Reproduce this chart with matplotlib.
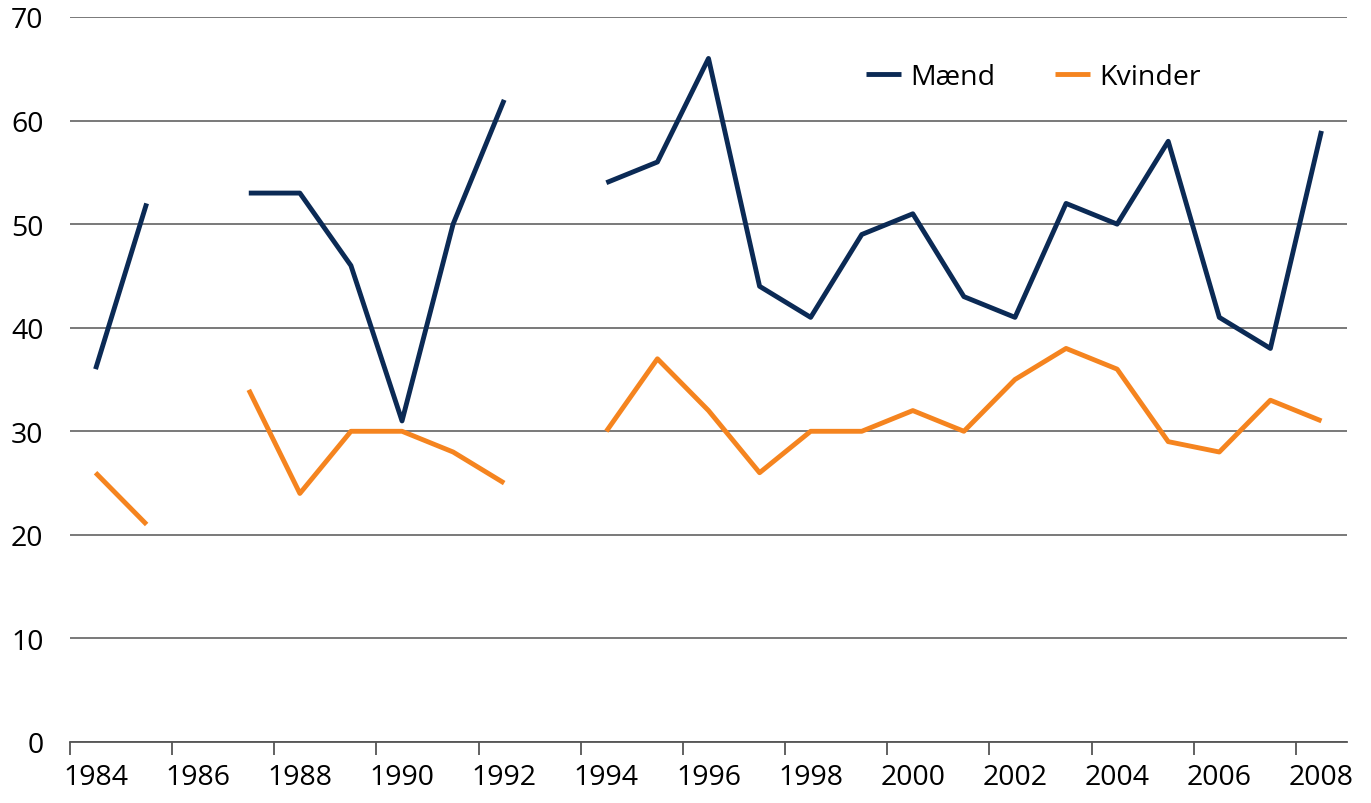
import numpy as np
import matplotlib
matplotlib.use("Agg")
import matplotlib.pyplot as plt

# ---- data ----
years = list(range(1984, 2009))
maend = [36, 52, np.nan, 53, 53, 46, 31, 50, 62, np.nan, 54, 56, 66, 44, 41,
         49, 51, 43, 41, 52, 50, 58, 41, 38, 59]
kvinder = [26, 21, np.nan, 34, 24, 30, 30, 28, 25, np.nan, 30, 37, 32, 26, 30,
           30, 32, 30, 35, 38, 36, 29, 28, 33, 31]
yticks = [0, 10, 20, 30, 40, 50, 60, 70]

plt.rcParams["font.family"] = ["Open Sans", "DejaVu Sans"]
FS = 20.5

fig = plt.figure(figsize=(13.71, 8.04), dpi=100)
W, H = 1371, 804
ax = fig.add_axes([70 / W, (H - 743) / H, (1347 - 70) / W, (743 - 18) / H])

x = np.arange(len(years))
ax.plot(x, maend, color="#0B2A55", lw=3.5, label="Mænd", solid_capstyle="butt")
ax.plot(x, kvinder, color="#F5841F", lw=3.5, label="Kvinder", solid_capstyle="butt")

ax.set_xlim(-0.5, len(years) - 0.5)
ax.set_ylim(0, 70)
ax.set_yticks(yticks)
ax.set_yticklabels([str(v) for v in yticks], fontsize=FS)
ax.tick_params(axis="y", length=0, pad=19)

# labels every other year at category centres, ticks at boundaries
ax.set_xticks(x[::2])
ax.set_xticklabels([str(y) for y in years[::2]], fontsize=FS)
ax.tick_params(axis="x", which="major", length=0, pad=15)
ax.set_xticks(np.arange(-0.5, len(years), 2), minor=True)
ax.tick_params(axis="x", which="minor", length=9, width=1.3, color="#555555")

ax.grid(axis="y", color="#555555", lw=1.1)
ax.set_axisbelow(True)
for s in ["top", "right", "left"]:
    ax.spines[s].set_visible(False)
ax.spines["bottom"].set_color("#555555")
ax.spines["bottom"].set_linewidth(1.3)

ax.legend(loc="upper left", bbox_to_anchor=(0.603, 0.972), ncol=2, frameon=False,
          fontsize=FS, handlelength=1.25, handletextpad=0.3, columnspacing=2.1)

fig.savefig("out.png", dpi=100)
